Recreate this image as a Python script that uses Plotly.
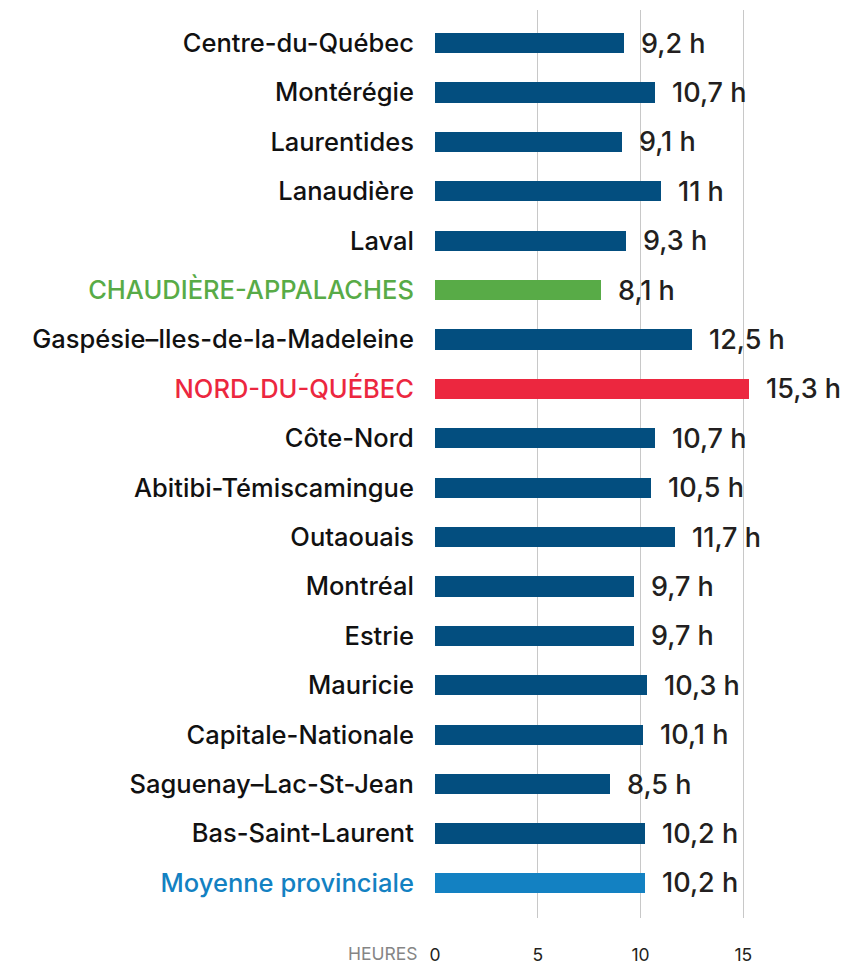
import plotly.graph_objects as go

regions = ["Centre-du-Québec", "Montérégie", "Laurentides", "Lanaudière", "Laval",
           "CHAUDIÈRE-APPALACHES", "Gaspésie–Iles-de-la-Madeleine", "NORD-DU-QUÉBEC",
           "Côte-Nord", "Abitibi-Témiscamingue", "Outaouais", "Montréal", "Estrie",
           "Mauricie", "Capitale-Nationale", "Saguenay–Lac-St-Jean", "Bas-Saint-Laurent",
           "Moyenne provinciale"]
hours = [9.2, 10.7, 9.1, 11.0, 9.3, 8.1, 12.5, 15.3, 10.7, 10.5, 11.7, 9.7, 9.7,
         10.3, 10.1, 8.5, 10.2, 10.2]
value_labels = ["9,2 h", "10,7 h", "9,1 h", "11 h", "9,3 h", "8,1 h", "12,5 h", "15,3 h",
                "10,7 h", "10,5 h", "11,7 h", "9,7 h", "9,7 h", "10,3 h", "10,1 h",
                "8,5 h", "10,2 h", "10,2 h"]
x_ticks = [0, 5, 10, 15]
x_tick_labels = ["0", "5", "10", "15"]

NAVY = "#034e7f"
special_bar = {"CHAUDIÈRE-APPALACHES": "#58ab47", "NORD-DU-QUÉBEC": "#ec273f",
               "Moyenne provinciale": "#1381c2"}
special_lbl = {"CHAUDIÈRE-APPALACHES": "#58ab47", "NORD-DU-QUÉBEC": "#ec273f",
               "Moyenne provinciale": "#1381c2"}

bar_colors = [special_bar.get(r, NAVY) for r in regions]
tick_text = [f"<span style='color:{special_lbl.get(r, '#111111')}'>{r}</span>" for r in regions]

FONT = "Inter"

fig = go.Figure()
fig.add_trace(go.Bar(
    x=hours, y=regions, orientation="h",
    marker=dict(color=bar_colors, line=dict(width=0)),
    width=0.41, hoverinfo="skip",
))

for r, v, t in zip(regions, hours, value_labels):
    fig.add_annotation(x=v, y=r, text=t, showarrow=False, xanchor="left", yanchor="middle",
                       xshift=15, font=dict(family=FONT, size=27, color="#231f20", weight=500))

fig.add_annotation(x=0, y=0, xref="x", yref="paper", text="HEURES", showarrow=False,
                   xanchor="right", yanchor="middle", xshift=-16, yshift=-35, borderpad=0,
                   font=dict(family=FONT, size=17.5, color="#858585"))

fig.update_layout(
    width=849, height=965,
    margin=dict(l=435, r=3, t=10, b=47),
    paper_bgcolor="white", plot_bgcolor="white",
    showlegend=False,
    bargap=0,
    xaxis=dict(range=[0, 20], tickvals=x_ticks, ticktext=x_tick_labels,
               showgrid=True, gridcolor="#c8c8c8", gridwidth=1.3, zeroline=False,
               showline=False, ticks="outside", ticklen=21, tickcolor="rgba(0,0,0,0)",
               tickfont=dict(family=FONT, size=17.5, color="#231f20"), fixedrange=True,
               automargin=False),
    yaxis=dict(categoryorder="array", categoryarray=regions,
               tickvals=regions, ticktext=tick_text,
               range=[17.71, -0.668], showgrid=False, zeroline=False, showline=False,
               ticks="outside", ticklen=15, tickcolor="rgba(0,0,0,0)",
               tickfont=dict(family=FONT, size=25.5, color="#111111", weight=500),
               fixedrange=True, automargin=False),
)

fig.write_html("out.html", config={"displayModeBar": False},
               post_script="document.body.style.margin='0';document.body.style.overflow='hidden';")
